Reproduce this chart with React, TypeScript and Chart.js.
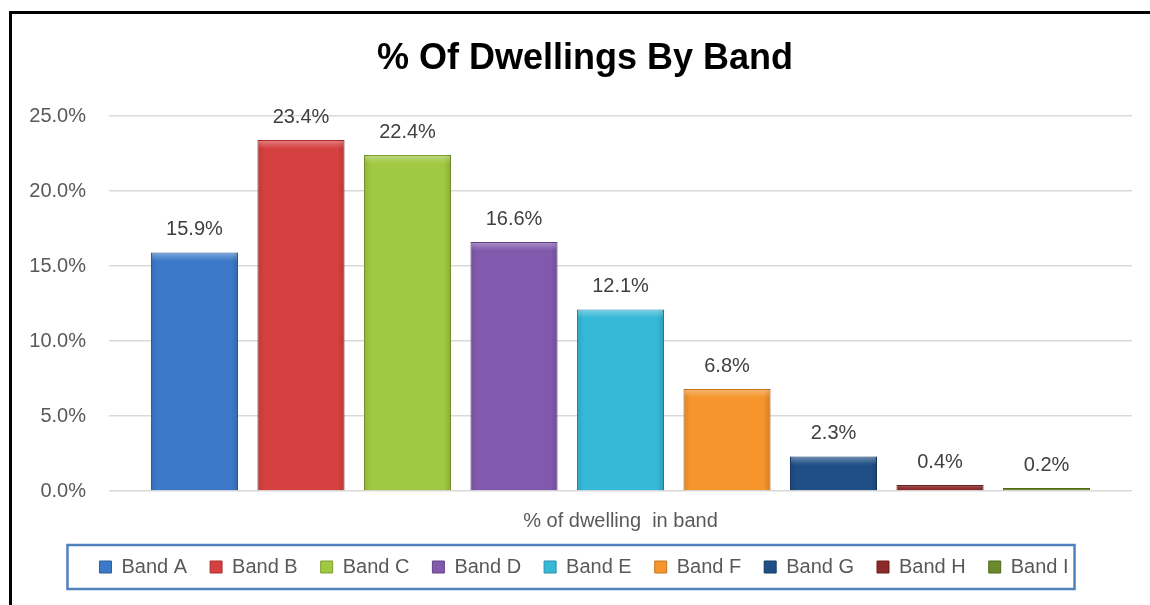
import React, { useEffect, useRef } from "react";
import { Chart, registerables } from "chart.js";

Chart.register(...registerables);

const categories = ["% of dwelling  in band"];
const bandNames = ["Band A", "Band B", "Band C", "Band D", "Band E", "Band F", "Band G", "Band H", "Band I"];
const bandValues = [15.9, 23.4, 22.4, 16.6, 12.1, 6.8, 2.3, 0.4, 0.2];
const bandColors = ["#3c7ac9", "#d54040", "#a0c842", "#8159ad", "#36b8d8", "#f5952b", "#1f4f86", "#8c2a2a", "#6b8a2c"];
const bandBorders = ["#2d5f9e", "#a83030", "#7f9f30", "#654386", "#2690aa", "#c87520", "#163a64", "#6a1f1f", "#52691f"];
const yTicks = [0, 5, 10, 15, 20, 25];
const titleText = "% Of Dwellings By Band";

const FONT = "'Liberation Sans', Arial, sans-serif";

const barShading = {
  id: "barShading",
  afterDatasetsDraw(chart: any) {
    const ctx = chart.ctx;
    ctx.save();
    chart.data.datasets.forEach((_ds: any, i: number) => {
      const meta = chart.getDatasetMeta(i);
      meta.data.forEach((bar: any) => {
        const l = bar.x - bar.width / 2;
        const r = bar.x + bar.width / 2;
        const t = bar.y;
        const b = bar.base;
        const h = b - t;
        if (h < 4) return;
        const g = ctx.createLinearGradient(l, 0, r, 0);
        g.addColorStop(0, "rgba(0,0,0,0.10)");
        g.addColorStop(0.08, "rgba(0,0,0,0)");
        g.addColorStop(0.92, "rgba(0,0,0,0)");
        g.addColorStop(1, "rgba(0,0,0,0.14)");
        ctx.fillStyle = g;
        ctx.fillRect(l, t, r - l, h);
        const bev = Math.min(7, h / 2);
        const g2 = ctx.createLinearGradient(0, t, 0, t + bev);
        g2.addColorStop(0, "rgba(255,255,255,0.35)");
        g2.addColorStop(1, "rgba(255,255,255,0.05)");
        ctx.fillStyle = g2;
        ctx.fillRect(l + 1, t + 1, r - l - 2, bev);
      });
    });
    ctx.restore();
  },
};

const valueLabels = {
  id: "valueLabels",
  afterDatasetsDraw(chart: any) {
    const ctx = chart.ctx;
    ctx.save();
    ctx.font = `20px ${FONT}`;
    ctx.fillStyle = "#404040";
    ctx.textAlign = "center";
    ctx.textBaseline = "middle";
    chart.data.datasets.forEach((ds: any, i: number) => {
      const meta = chart.getDatasetMeta(i);
      meta.data.forEach((bar: any, j: number) => {
        const v = ds.data[j];
        ctx.fillText(v.toFixed(1) + "%", bar.x, bar.y - 23);
      });
    });
    ctx.restore();
  },
};

const boxShift = {
  id: "boxShift",
  afterUpdate(chart: any) {
    const lg = chart.legend;
    if (lg) {
      lg.left += 12;
      lg.right += 12;
      (lg.legendHitBoxes || []).forEach((h: any) => { h.left += 12; });
    }
    const tb = chart.titleBlock;
    if (tb) {
      tb.left += 13;
      tb.right += 13;
    }
  },
};

const legendBox = {
  id: "legendBox",
  afterDraw(chart: any) {
    const lg = chart.legend;
    if (!lg || !lg.legendHitBoxes || !lg.legendHitBoxes.length) return;
    const hbs = lg.legendHitBoxes;
    const left = Math.min(...hbs.map((h: any) => h.left)) - 32;
    const right = Math.max(...hbs.map((h: any) => h.left + h.width)) + 6;
    const cy = hbs[0].top + hbs[0].height / 2;
    const ctx = chart.ctx;
    ctx.save();
    ctx.strokeStyle = "#4f81bd";
    ctx.lineWidth = 2.5;
    ctx.strokeRect(left, cy - 22, right - left, 44);
    ctx.restore();
  },
};

export default function App() {
  const ref = useRef<HTMLCanvasElement>(null);
  useEffect(() => {
    if (!ref.current) return;
    const chart = new Chart(ref.current, {
      type: "bar",
      data: {
        labels: categories,
        datasets: bandNames.map((name, i) => ({
          label: name,
          data: [bandValues[i]],
          backgroundColor: bandColors[i],
          borderColor: bandBorders[i],
          borderWidth: 1,
        })),
      },
      options: {
        responsive: false,
        animation: false,
        devicePixelRatio: 1,
        layout: { padding: { left: 12, right: 18, top: 0, bottom: 18 } },
        datasets: { bar: { categoryPercentage: 0.937, barPercentage: 0.817 } },
        scales: {
          x: {
            grid: { display: false, drawTicks: false },
            border: { display: false },
            ticks: { color: "#595959", font: { family: FONT, size: 20 }, padding: 18 },
            afterFit: (s: any) => { s.height = 43; },
          },
          y: {
            min: 0,
            max: 25,
            afterBuildTicks: (s: any) => { s.ticks = yTicks.map((v) => ({ value: v })); },
            grid: { color: "#d9d9d9", lineWidth: 1.5, drawTicks: false },
            border: { display: false },
            ticks: {
              color: "#595959",
              font: { family: FONT, size: 20 },
              padding: 23,
              callback: (v: any) => Number(v).toFixed(1) + "%",
            },
            afterFit: (s: any) => { s.width = 97; },
          },
        },
        plugins: {
          title: {
            display: true,
            text: titleText,
            color: "#000000",
            font: { family: FONT, size: 36, weight: "bold", lineHeight: 1.2 },
            padding: { top: 37, bottom: 35.8 },
          },
          legend: {
            display: true,
            position: "bottom",
            labels: {
              color: "#595959",
              font: { family: FONT, size: 20 },
              boxWidth: 12,
              boxHeight: 12,
              padding: 23,
            },
          },
          tooltip: { enabled: false },
        },
      },
      plugins: [barShading, valueLabels, boxShift, legendBox],
    } as any);
    return () => chart.destroy();
  }, []);

  return (
    <div style={{ position: "fixed", left: 0, top: 0, width: 1150, height: 605, background: "#fff", overflow: "hidden" }}>
      <canvas ref={ref} width={1150} height={605} style={{ position: "absolute", left: 0, top: 0 }} />
      <div
        style={{
          position: "absolute",
          left: 9,
          top: 11,
          width: 1200,
          height: 700,
          borderLeft: "3px solid #000",
          borderTop: "3px solid #000",
          pointerEvents: "none",
        }}
      />
    </div>
  );
}
